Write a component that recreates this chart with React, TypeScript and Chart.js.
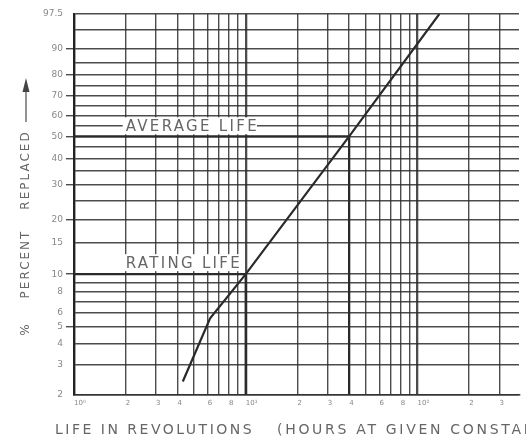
import React, { useEffect, useRef } from "react";
import { Chart, registerables } from "chart.js";

Chart.register(...registerables);

// ---- data ----
const lifeValues = [4.3, 6.2, 10, 40, 134];
const percentReplaced = [2.4, 5.6, 10, 50, 97.5];

const averageLifeX = [1, 40, 40];
const averageLifeY = [50, 50, 2];
const ratingLifeX = [1, 10, 10];
const ratingLifeY = [10, 10, 2];

const xTickValues = [1, 2, 3, 4, 5, 6, 7, 8, 9, 10, 20, 30, 40, 50, 60, 70, 80, 90, 100, 200, 300];
const xTickLabels = ["10⁰", "2", "3", "4", "", "6", "", "8", "", "10¹", "2", "3", "4", "", "6", "", "8", "", "10²", "2", "3"];
const xDecades = [1, 10, 100];

const yGridPercents = [2, 3, 4, 5, 6, 7, 8, 9, 10, 15, 20, 25, 30, 35, 40, 45, 50, 55, 60, 65, 70, 75, 80, 85, 90, 95, 97.5];
const yTickLabels = ["2", "3", "4", "5", "6", "", "8", "", "10", "15", "20", "", "30", "", "40", "", "50", "", "60", "", "70", "", "80", "", "90", "", "97.5"];
const yMajorTicks = [5, 10, 20, 30, 40, 50, 60, 70, 80, 90];

const annotationTexts = ["AVERAGE LIFE", "RATING LIFE"];
const annotationX = [2, 2];
const annotationPercent = [50, 10];

const yTitleWords = ["%", "PERCENT", "REPLACED"];
const xTitleParts = ["LIFE IN REVOLUTIONS", "(HOURS AT GIVEN CONSTANT SPEED)"];

const yMin = 2;
const yMax = 97.5;
const xMin = 1;
const xMax = 390;

// Weibull probability transform
const wb = (p: number) => Math.log(-Math.log(1 - p / 100));

const LINE = "rgba(45,45,45,0.85)";
const TEXT = "#666";
const FONT = '"DejaVu Sans", sans-serif';

const textPlugin = {
  id: "paperTexts",
  afterDatasetsDraw(chart: any) {
    const { ctx, scales } = chart;
    const x = scales.x;
    const y = scales.y;
    ctx.save();
    ctx.font = `15px ${FONT}`;
    (ctx as any).letterSpacing = "2.3px";
    ctx.textAlign = "left";
    ctx.textBaseline = "alphabetic";
    annotationTexts.forEach((t, i) => {
      const left = x.getPixelForValue(annotationX[i]);
      const base = y.getPixelForValue(wb(annotationPercent[i])) - (i === 0 ? 5 : 6);
      const w = ctx.measureText(t).width;
      ctx.fillStyle = "#ffffff";
      ctx.fillRect(left - 3, base - 14, w + 1, 17);
      ctx.fillStyle = TEXT;
      ctx.fillText(t, left, base);
    });
    ctx.restore();
  },
  afterDraw(chart: any) {
    const { ctx } = chart;
    ctx.save();
    ctx.fillStyle = TEXT;
    // x title
    ctx.font = `14px ${FONT}`;
    (ctx as any).letterSpacing = "2.5px";
    ctx.textAlign = "left";
    ctx.textBaseline = "alphabetic";
    ctx.fillText(xTitleParts[0], 55, 434);
    (ctx as any).letterSpacing = "2.7px";
    ctx.fillText(xTitleParts[1], 277, 434);
    // y title (rotated)
    ctx.font = `12px ${FONT}`;
    (ctx as any).letterSpacing = "2px";
    const cx = 26;
    const centers = [330, 265, 171];
    yTitleWords.forEach((wd, i) => {
      ctx.save();
      ctx.translate(cx, centers[i]);
      ctx.rotate(-Math.PI / 2);
      ctx.textAlign = "center";
      ctx.textBaseline = "middle";
      ctx.fillText(wd, 1, 0);
      ctx.restore();
    });
    // arrow
    ctx.strokeStyle = TEXT;
    ctx.lineWidth = 1.4;
    ctx.beginPath();
    ctx.moveTo(cx, 122);
    ctx.lineTo(cx, 90);
    ctx.stroke();
    ctx.fillStyle = "#444";
    ctx.beginPath();
    ctx.moveTo(cx, 78);
    ctx.lineTo(cx - 3.5, 92);
    ctx.lineTo(cx + 3.5, 92);
    ctx.closePath();
    ctx.fill();
    ctx.restore();
  },
};

export default function App() {
  const ref = useRef<HTMLCanvasElement | null>(null);

  useEffect(() => {
    document.body.style.margin = "0";
    const canvas = ref.current;
    if (!canvas) return;
    const toPts = (xs: number[], ys: number[]) => xs.map((v, i) => ({ x: v, y: wb(ys[i]) }));
    const chart = new Chart(canvas, {
      type: "line",
      data: {
        datasets: [
          {
            label: "Life",
            data: toPts(lifeValues, percentReplaced),
            borderColor: "#2a2a2a",
            borderWidth: 2.2,
            pointRadius: 0,
            tension: 0,
          },
          {
            label: "Average life",
            data: toPts(averageLifeX, averageLifeY),
            borderColor: "#2a2a2a",
            borderWidth: 2.3,
            pointRadius: 0,
            tension: 0,
          },
          {
            label: "Rating life",
            data: toPts(ratingLifeX, ratingLifeY),
            borderColor: "#2a2a2a",
            borderWidth: 2.3,
            pointRadius: 0,
            tension: 0,
          },
        ],
      },
      options: {
        animation: false,
        responsive: false,
        layout: { padding: { top: 14, right: 7, left: 0, bottom: 0 } },
        plugins: { legend: { display: false }, tooltip: { enabled: false } },
        scales: {
          x: {
            type: "logarithmic",
            min: xMin,
            max: xMax,
            afterBuildTicks: (s: any) => {
              s.ticks = xTickValues.map((v) => ({ value: v }));
            },
            afterFit: (s: any) => {
              s.height = 42;
            },
            ticks: {
              autoSkip: false,
              maxRotation: 0,
              minRotation: 0,
              align: "start",
              padding: 4,
              font: { size: 7, family: FONT },
              color: "#888",
              callback: (_v: any, i: number) => xTickLabels[i],
            },
            grid: {
              drawTicks: false,
              color: LINE,
              lineWidth: (c: any) => (c.tick && xDecades.includes(c.tick.value) ? 2.3 : 1.4),
            },
            border: { display: true, color: "#333", width: 1.6 },
          },
          y: {
            type: "linear",
            min: wb(yMin),
            max: wb(yMax),
            afterBuildTicks: (s: any) => {
              s.ticks = yGridPercents.map((p) => ({ value: wb(p) }));
            },
            afterFit: (s: any) => {
              s.width = 74;
            },
            ticks: {
              autoSkip: false,
              padding: 3,
              font: { size: 9, family: FONT },
              color: "#888",
              callback: (_v: any, i: number) => yTickLabels[i],
            },
            grid: {
              tickLength: 8,
              color: LINE,
              lineWidth: 1.4,
              tickColor: (c: any) =>
                yMajorTicks.includes(yGridPercents[c.index]) ? LINE : "rgba(0,0,0,0)",
            },
            border: { display: true, color: "#222", width: 2.2 },
          },
        },
      },
      plugins: [textPlugin],
    } as any);
    return () => chart.destroy();
  }, []);

  return (
    <div style={{ width: 526, height: 437, background: "#fff" }}>
      <canvas ref={ref} width={526} height={437} />
    </div>
  );
}
